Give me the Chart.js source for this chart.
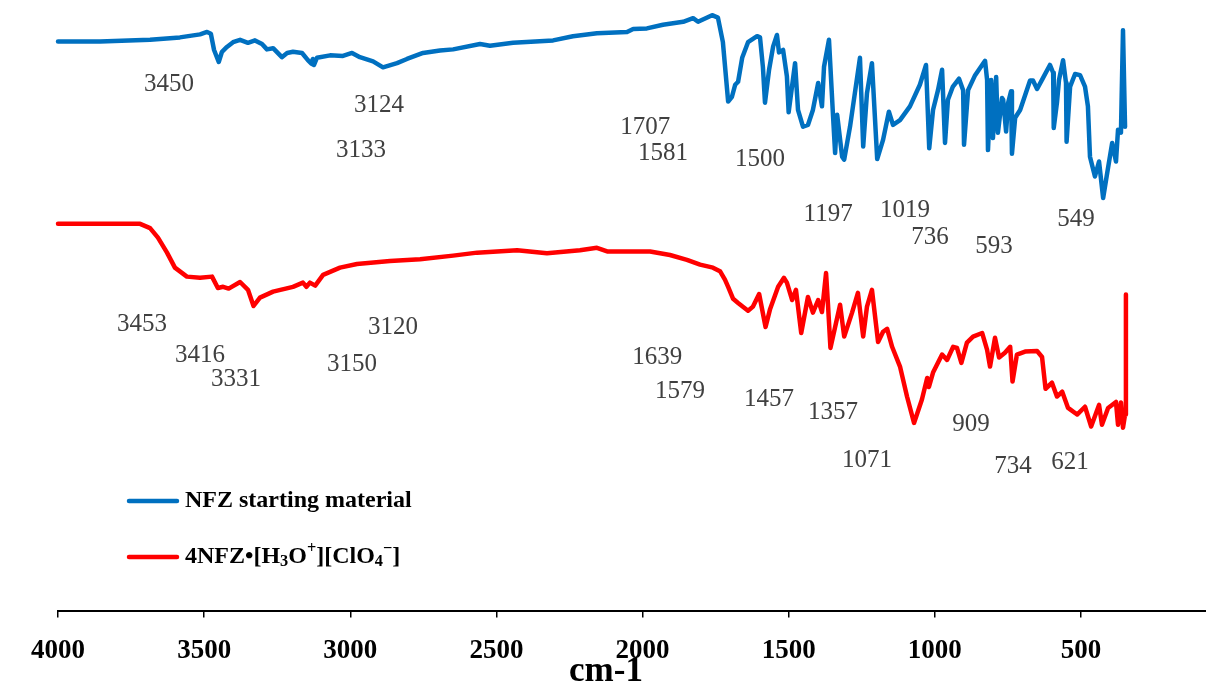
<!DOCTYPE html>
<html>
<head>
<meta charset="utf-8">
<script src="https://cdn.jsdelivr.net/npm/chart.js@4.4.1/dist/chart.umd.min.js"></script>
<style>
    html, body { margin: 0; padding: 0; background: #fff; }
    canvas { display: block; }
</style>
</head>
<body>
<canvas id="irChart" width="1206" height="686"></canvas>
<script>
// FT-IR spectra, wavenumber (cm-1) against transmittance (arbitrary offset units)
const seriesNames = ['NFZ starting material', '4NFZ•[H₃O⁺][ClO₄⁻]'];
const xTicks = [4000, 3500, 3000, 2500, 2000, 1500, 1000, 500];

const nfzWavenumber = [
    4000, 3856, 3685, 3583, 3514, 3490, 3477, 3466, 3450, 3439, 3422, 3401, 3377, 3350, 3326, 3302,
    3285, 3264, 3234, 3216, 3196, 3165, 3145, 3133, 3128, 3124, 3114, 3069, 3025, 2994, 2967, 2922,
    2888, 2840, 2806, 2751, 2693, 2648, 2556, 2522, 2443, 2306, 2238, 2156, 2053, 2032, 1985, 1930,
    1861, 1827, 1810, 1762, 1742, 1725, 1707, 1694, 1683, 1673, 1659, 1639, 1608, 1598, 1588, 1581,
    1567, 1553, 1540, 1533, 1519, 1506, 1500, 1478, 1468, 1451, 1434, 1417, 1399, 1386, 1379, 1362,
    1348, 1341, 1334, 1317, 1310, 1290, 1256, 1245, 1232, 1215, 1197, 1177, 1157, 1143, 1119, 1085,
    1051, 1030, 1019, 1006, 989, 975, 965, 955, 938, 917, 903, 900, 886, 862, 838, 828,
    821, 818, 807, 801, 790, 784, 770, 766, 756, 749, 739, 736, 725, 708, 674, 664,
    650, 630, 606, 595, 593, 582, 575, 561, 551, 549, 537, 520, 503, 486, 476, 469,
    452, 438, 424, 410, 393, 380, 373, 363, 361, 356, 349
];
const nfzSignal = [
    94.9, 94.9, 95.2, 95.6, 96.1, 96.5, 96.2, 93.5, 91.5, 93.2, 94.0, 94.8, 95.2, 94.7, 95.1, 94.5,
    93.6, 93.8, 92.3, 93.0, 93.2, 93.0, 91.8, 91.2, 92.0, 91.0, 92.2, 92.6, 92.5, 93.0, 92.3, 91.6,
    90.6, 91.3, 92.0, 93.0, 93.4, 93.6, 94.5, 94.2, 94.7, 95.1, 95.8, 96.3, 96.5, 97.0, 97.1, 97.7,
    98.2, 98.8, 98.2, 99.3, 98.9, 94.8, 84.9, 85.7, 87.7, 88.2, 92.2, 94.8, 95.8, 95.6, 90.6, 84.7,
    90.2, 94.1, 96.0, 93.1, 93.5, 89.1, 83.1, 91.3, 83.5, 80.7, 81.0, 83.5, 88.0, 84.1, 90.7, 95.2,
    82.4, 76.3, 82.7, 75.7, 75.2, 80.7, 92.2, 77.4, 86.3, 91.3, 75.3, 78.5, 83.2, 81.0, 81.8, 84.1,
    87.7, 91.0, 77.1, 83.5, 86.8, 90.2, 78.0, 85.2, 87.4, 88.7, 86.8, 77.7, 86.8, 89.3, 91.0, 91.7,
    88.5, 76.8, 88.5, 78.8, 89.0, 79.7, 85.5, 85.2, 79.9, 84.7, 86.6, 76.2, 82.2, 83.5, 88.4, 88.4,
    87.0, 88.8, 91.0, 89.7, 80.5, 84.7, 88.5, 91.8, 88.0, 78.2, 87.4, 89.5, 89.3, 87.4, 84.1, 75.7,
    72.4, 74.9, 68.8, 73.0, 78.0, 74.9, 80.2, 79.7, 84.7, 96.8, 80.7
];

const saltWavenumber = [
    4000, 3719, 3685, 3658, 3627, 3600, 3559, 3514, 3473, 3453, 3435, 3416, 3377, 3350, 3331, 3309,
    3264, 3196, 3162, 3150, 3138, 3120, 3093, 3035, 2977, 2864, 2761, 2648, 2566, 2429, 2327, 2214,
    2156, 2121, 1974, 1906, 1848, 1803, 1759, 1735, 1718, 1707, 1690, 1673, 1639, 1622, 1601, 1579,
    1564, 1536, 1516, 1506, 1488, 1475, 1457, 1434, 1417, 1399, 1386, 1372, 1365, 1357, 1324, 1310,
    1283, 1263, 1245, 1232, 1215, 1194, 1177, 1163, 1146, 1119, 1095, 1071, 1044, 1026, 1020, 1006,
    975, 958, 937, 924, 909, 890, 869, 838, 821, 811, 794, 780, 760, 742, 734, 719,
    691, 650, 633, 621, 599, 582, 564, 544, 513, 486, 465, 438, 428, 407, 380, 373,
    363, 356, 349, 346
];
const saltSignal = [
    64.5, 64.5, 63.8, 62.2, 59.7, 57.2, 55.7, 55.5, 55.7, 53.8, 54.0, 53.7, 54.8, 53.5, 50.8, 52.2,
    53.2, 54.0, 54.7, 54.0, 54.7, 54.2, 56.0, 57.2, 57.8, 58.3, 58.6, 59.2, 59.7, 60.1, 59.6, 60.1,
    60.5, 59.9, 59.9, 59.3, 58.5, 57.7, 57.2, 56.6, 55.2, 54.0, 52.0, 51.3, 50.0, 50.7, 52.8, 47.3,
    50.2, 54.0, 55.5, 54.7, 51.8, 53.5, 46.3, 52.3, 49.7, 51.8, 49.8, 56.3, 50.7, 43.8, 51.0, 45.7,
    49.7, 53.0, 45.7, 50.7, 53.5, 44.8, 46.5, 47.0, 44.0, 40.7, 35.7, 31.3, 35.2, 38.8, 37.3, 39.7,
    42.7, 41.8, 44.0, 43.8, 41.3, 44.7, 45.7, 46.3, 43.5, 40.7, 45.5, 42.2, 43.0, 44.0, 38.2, 42.7,
    43.2, 43.3, 42.3, 37.0, 38.0, 35.7, 36.5, 33.8, 32.7, 34.0, 30.7, 34.3, 31.0, 33.8, 34.8, 31.0,
    34.7, 30.5, 32.7, 52.7
];

// peak assignments written next to each trace (x in cm-1, y in signal units)
const peakNotes = [
    { text: '3450', x: 3620, y: 87.7 }, { text: '3124', x: 2902, y: 84.2 },
    { text: '3133', x: 2963, y: 76.7 }, { text: '1707', x: 1991, y: 80.5 },
    { text: '1581', x: 1930, y: 76.3 }, { text: '1500', x: 1598, y: 75.3 },
    { text: '1197', x: 1365, y: 66.0 }, { text: '1019', x: 1102, y: 66.8 },
    { text: '736', x: 1016, y: 62.3 }, { text: '593', x: 797, y: 60.8 },
    { text: '549', x: 517, y: 65.2 },
    { text: '3453', x: 3713, y: 47.7 }, { text: '3416', x: 3514, y: 42.5 },
    { text: '3331', x: 3391, y: 38.5 }, { text: '3120', x: 2854, y: 47.3 },
    { text: '3150', x: 2994, y: 41.0 }, { text: '1639', x: 1950, y: 42.3 },
    { text: '1579', x: 1872, y: 36.5 }, { text: '1457', x: 1567, y: 35.2 },
    { text: '1357', x: 1348, y: 33.0 }, { text: '1071', x: 1232, y: 25.0 },
    { text: '909', x: 876, y: 31.0 }, { text: '734', x: 732, y: 24.0 },
    { text: '621', x: 537, y: 24.7 }
];

const toPoints = (xs, ys) => xs.map((x, i) => ({ x: x, y: ys[i] }));

const SUBS = '₀₁₂₃₄₅₆₇₈₉';
const SUPS = { '⁺': '+', '⁻': '−' };

// draws text with unicode sub/superscripts rendered as small shifted glyphs
function drawRichText(ctx, text, x, y, size, family) {
    let cx = x;
    for (const ch of text) {
        let glyph = ch, fs = size, dy = 0;
        if (SUBS.includes(ch)) {
            glyph = String(SUBS.indexOf(ch));
            fs = size * 0.68;
            dy = size * 0.18;
        } else if (SUPS[ch]) {
            glyph = SUPS[ch];
            fs = size * 0.68;
            dy = -size * 0.33;
        }
        ctx.font = 'bold ' + fs + 'px ' + family;
        ctx.fillText(glyph, cx, y + dy);
        cx += ctx.measureText(glyph).width;
    }
}

const notesPlugin = {
    id: 'notes',
    afterDatasetsDraw(chart) {
        const ctx = chart.ctx;
        const xs = chart.scales.x, ys = chart.scales.y;
        const ca = chart.chartArea;
        ctx.save();

        // peak labels
        ctx.fillStyle = '#404040';
        ctx.font = '25px "Liberation Serif", "Times New Roman", serif';
        ctx.textAlign = 'center';
        ctx.textBaseline = 'middle';
        peakNotes.forEach(n => {
            ctx.fillText(n.text, xs.getPixelForValue(n.x), ys.getPixelForValue(n.y));
        });

        // legend inside the plot
        ctx.textAlign = 'left';
        ctx.fillStyle = '#000';
        chart.data.datasets.forEach((ds, i) => {
            const y = ca.top + 490 + i * 56;
            ctx.strokeStyle = ds.borderColor;
            ctx.lineWidth = 4.5;
            ctx.lineCap = 'round';
            ctx.beginPath();
            ctx.moveTo(ca.left + 71, y);
            ctx.lineTo(ca.left + 119, y);
            ctx.stroke();
            drawRichText(ctx, seriesNames[i], ca.left + 127, y, 24, '"Liberation Serif", serif');
        });

        // axis title
        ctx.textAlign = 'center';
        ctx.textBaseline = 'alphabetic';
        ctx.font = 'bold 35px "Liberation Serif", serif';
        ctx.fillText('cm-1', (ca.left + ca.right) / 2 - 26, 681);
        ctx.restore();
    }
};

const ctx = document.getElementById('irChart').getContext('2d');
new Chart(ctx, {
    type: 'line',
    data: {
        datasets: [
            {
                label: seriesNames[0],
                data: toPoints(nfzWavenumber, nfzSignal),
                borderColor: '#0070C0',
                borderWidth: 4.5,
                borderJoinStyle: 'round',
                borderCapStyle: 'round',
                pointRadius: 0,
                tension: 0,
                clip: false
            },
            {
                label: seriesNames[1],
                data: toPoints(saltWavenumber, saltSignal),
                borderColor: '#FF0000',
                borderWidth: 4.5,
                borderJoinStyle: 'round',
                borderCapStyle: 'round',
                pointRadius: 0,
                tension: 0,
                clip: false
            }
        ]
    },
    options: {
        responsive: false,
        animation: false,
        devicePixelRatio: 1,
        layout: { padding: { left: 58, right: 0, top: 11, bottom: 2 } },
        scales: {
            x: {
                type: 'linear',
                reverse: true,
                min: 72,
                max: 4000,
                afterBuildTicks: scale => {
                    scale.ticks = xTicks.map(v => ({ value: v }));
                },
                border: { display: true, color: '#000', width: 2 },
                grid: { drawOnChartArea: false, drawTicks: true, tickLength: 7, color: '#000', lineWidth: 1.5 },
                ticks: {
                    color: '#000',
                    padding: 17,
                    maxRotation: 0,
                    autoSkip: false,
                    font: { family: '"Liberation Serif", serif', size: 27, weight: 'bold' },
                    callback: v => String(v)
                }
            },
            y: { display: false, min: 0, max: 100 }
        },
        plugins: {
            legend: { display: false },
            tooltip: { enabled: false }
        }
    },
    plugins: [notesPlugin]
});
</script>
</body>
</html>
